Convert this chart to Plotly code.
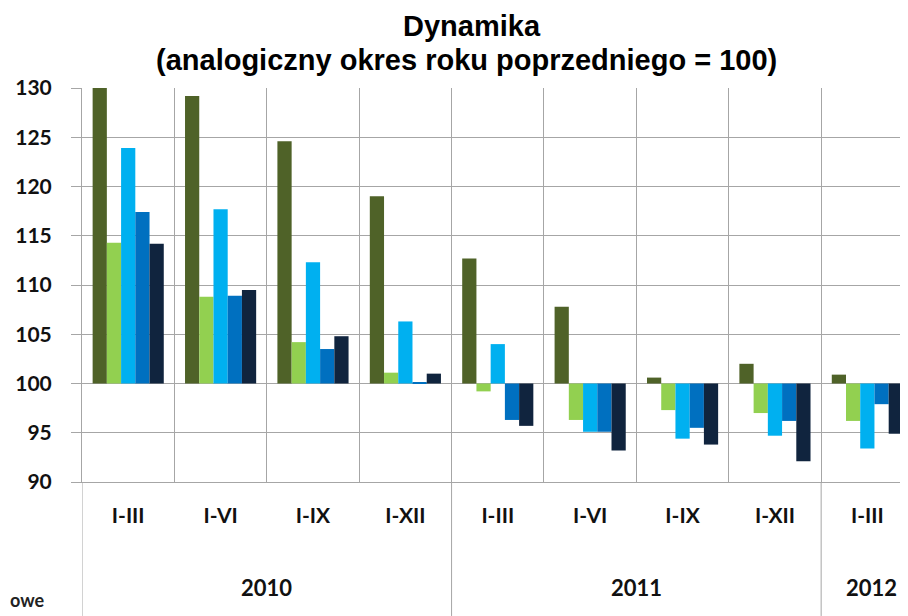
import plotly.graph_objects as go

# okresy i lata (oś X)
periods = ["I-III", "I-VI", "I-IX", "I-XII", "I-III", "I-VI", "I-IX", "I-XII", "I-III"]
years = ["2010", "2010", "2010", "2010", "2011", "2011", "2011", "2011", "2012"]

# dynamika, analogiczny okres roku poprzedniego = 100
seria_1 = [130.0, 129.2, 124.6, 119.0, 112.7, 107.8, 100.6, 102.0, 100.9]
seria_2 = [114.3, 108.8, 104.2, 101.1, 99.2, 96.3, 97.3, 97.0, 96.2]
seria_3 = [123.9, 117.7, 112.3, 106.3, 104.0, 95.1, 94.4, 94.7, 93.4]
seria_4 = [117.4, 108.9, 103.5, 100.1, 96.3, 95.1, 95.5, 96.2, 97.9]
seria_5 = [114.2, 109.5, 104.8, 101.0, 95.7, 93.2, 93.8, 92.1, 94.9]

series = [seria_1, seria_2, seria_3, seria_4, seria_5]
names = ["seria 1", "seria 2", "seria 3", "seria 4", "seria 5"]
colors = ["#4F6228", "#92D050", "#00B0F0", "#0070C0", "#10243E"]

keys = [f"{y} {p}" for y, p in zip(years, periods)]

fig = go.Figure()
for vals, name, col in zip(series, names, colors):
    fig.add_trace(go.Bar(
        x=keys, y=[v - 100 for v in vals], base=100, name=name,
        marker=dict(color=col, line=dict(width=0)),
    ))

grid = "#A6A6A6"
label_font = dict(family="Lato, Open Sans, sans-serif", size=21, color="#111111",
                  weight="bold")

# strona html ma 8 px marginesu, więc wykres jest o 8 px mniejszy
fig.update_layout(
    width=900, height=608,
    margin=dict(l=74, r=0, t=80, b=134),
    paper_bgcolor="white", plot_bgcolor="white",
    barmode="group", bargap=0.23, bargroupgap=0,
    showlegend=False,
    xaxis=dict(
        type="category", range=[-0.5, 8.44],
        tickmode="array", tickvals=keys, ticktext=periods,
        tickson="boundaries", showgrid=True, gridcolor=grid, gridwidth=1,
        ticks="", ticklabelstandoff=15, tickfont=label_font,
        showline=True, linecolor=grid, linewidth=1, zeroline=False,
    ),
    yaxis=dict(
        range=[90, 130], dtick=5, tick0=90,
        showgrid=True, gridcolor=grid, gridwidth=1,
        ticks="outside", ticklen=10, tickcolor=grid, ticklabelstandoff=15,
        showline=True, linecolor=grid, linewidth=1,
        tickfont=label_font, zeroline=False,
    ),
)

title_font = dict(family="Arial, Liberation Sans, sans-serif", size=29, color="black")
fig.add_annotation(text="<b>Dynamika</b>", xref="paper", yref="paper",
                   x=0.472, y=1.1586, xanchor="center", yanchor="middle",
                   showarrow=False, font=title_font)
fig.add_annotation(text="<b>(analogiczny okres roku poprzedniego = 100)</b>",
                   xref="paper", yref="paper", x=0.4655, y=1.071,
                   xanchor="center", yanchor="middle", showarrow=False, font=title_font)

# lata pod okresami + linie podziału
year_font = dict(label_font, size=22)
starts = [i for i in range(len(years)) if i == 0 or years[i] != years[i - 1]]
for j, s in enumerate(starts):
    e = starts[j + 1] - 1 if j + 1 < len(starts) else len(years) - 1
    fig.add_annotation(text=years[s], xref="x", yref="paper",
                       x=(s + e) / 2 + (0.05 if j == 2 else 0), y=-0.267,
                       xanchor="center", yanchor="middle",
                       showarrow=False, font=year_font)
    fig.add_shape(type="line", xref="x", yref="paper",
                  x0=s - 0.5, x1=s - 0.5, y0=0, y1=-0.34,
                  line=dict(color=grid, width=1))

# ucięta legenda po lewej
fig.add_annotation(text="owe", xref="paper", yref="paper", x=-0.0896, y=-0.2995,
                   xanchor="left", yanchor="middle", showarrow=False,
                   font=dict(family="Lato, sans-serif", size=18, color="#222222",
                             weight="bold"))

fig.write_html("out.html")
